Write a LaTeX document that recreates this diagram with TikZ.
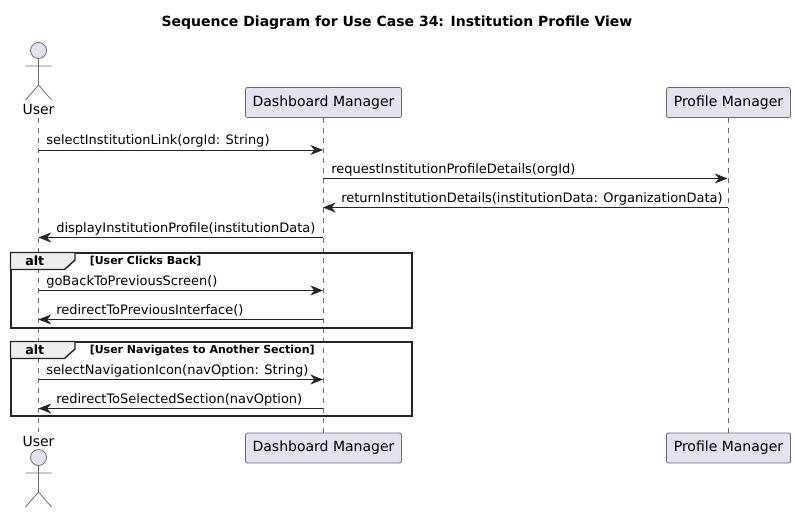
\documentclass[tikz,border=0pt]{standalone}
\usepackage{fontspec}
\setmainfont{DejaVu Sans}
\usetikzlibrary{arrows.meta}
\definecolor{partfill}{HTML}{E2E2F0}
\definecolor{partline}{HTML}{6E6E6E}
\definecolor{tabfill}{HTML}{EEEEEE}
\tikzset{
	part/.style={draw=partline,fill=partfill,rounded corners=1.5pt,line width=0.6pt,font=\fontsize{10.5pt}{12pt}\selectfont,inner sep=0pt,minimum height=22.5pt},
	lifeline/.style={draw=partline,line width=0.5pt,dash pattern=on 3.75pt off 3.75pt},
	msg/.style={draw=black!85,line width=0.6pt,-{Stealth[length=9.5pt,width=7.5pt,inset=3pt]}},
	msgtext/.style={anchor=base west,inner sep=0pt,font=\fontsize{9.75pt}{12pt}\selectfont},
	actorlabel/.style={inner sep=0pt,anchor=base,font=\fontsize{10.5pt}{12pt}\selectfont},
	altframe/.style={draw=black!85,line width=1.5pt},
	alttab/.style={draw=black!85,fill=tabfill,line width=1.1pt},
	altname/.style={anchor=base west,inner sep=0pt,font=\bfseries\fontsize{9.5pt}{12pt}\selectfont},
	guard/.style={anchor=base west,inner sep=0pt,font=\bfseries\fontsize{8.25pt}{10pt}\selectfont},
	actorman/.pic={
		\draw[draw=partline,fill=partfill,line width=0.6pt] (0,0) circle (8);
		\draw[draw=partline,line width=0.6pt] (0,8)--(0,34.5) (-13,15.5)--(13,15.5) (-13,49.5)--(0,34.5)--(13,49.5);
	}
}
\begin{document}
\begin{tikzpicture}[x=0.75pt,y=-0.75pt,line join=round]
	\useasboundingbox[fill=white] (0,0) rectangle (795,513);
	\node[anchor=base,inner sep=0pt,font=\bfseries\fontsize{10.5pt}{12pt}\selectfont] (title) at (397,27) {Sequence Diagram for Use Case 34: Institution Profile View};
	% participants
	\pic at (38.5,50.5) {actorman};
	\pic at (38.5,457.5) {actorman};
	\node[actorlabel] (userT) at (38.5,115) {User};
	\node[actorlabel] (userB) at (38.5,446) {User};
	\node[part,minimum width=117pt] (dashT) at (323.5,102.5) {Dashboard Manager};
	\node[part,minimum width=117pt] (dashB) at (323.5,448) {Dashboard Manager};
	\node[part,minimum width=93pt] (profT) at (728.5,102.5) {Profile Manager};
	\node[part,minimum width=93pt] (profB) at (728.5,448) {Profile Manager};
	\coordinate (uTop) at (38.5,118);
	\coordinate (uEnd) at (38.5,432);
	\draw[lifeline] (uTop)--(uEnd);
	\draw[lifeline] (dashT)--(dashB);
	\draw[lifeline] (profT)--(profB);
	% frames
	\foreach \nm/\ya/\yb/\txt in {altA/252.5/327.5/{[User Clicks Back]},altB/341.5/416/{[User Navigates to Another Section]}}{
		\draw[altframe,line join=miter] (10.5,\ya) rectangle (411.5,\yb);
		\draw[alttab] (10.5,\ya)--(75,\ya)--(75,\ya+7.5)--(64.5,\ya+17)--(10.5,\ya+17)--cycle;
		\node[altname] (\nm) at (25,\ya+12.5) {alt};
		\node[guard] (\nm guard) at (89.5,\ya+11.5) {\txt};
	}
	% messages
	\foreach \nm/\y in {a/150,d/237.5,e/290.5,f/319.5,g/379.5,h/408.5}{
		\coordinate (u\nm) at (38.5,\y);
		\coordinate (d\nm) at (323,\y);
	}
	\foreach \nm/\y in {b/178.5,c/207.5}{
		\coordinate (d\nm) at (323,\y);
		\coordinate (p\nm) at (727.5,\y);
	}
	\draw[msg] (ua)--(da);
	\draw[msg] (db)--(pb);
	\draw[msg] (pc)--(dc);
	\draw[msg] (dd)--(ud);
	\draw[msg] (ue)--(de);
	\draw[msg] (df)--(uf);
	\draw[msg] (ug)--(dg);
	\draw[msg] (dh)--(uh);
	\node[msgtext] (ta) at (46,145) {selectInstitutionLink(orgId: String)};
	\node[msgtext] (tb) at (331,173.5) {requestInstitutionProfileDetails(orgId)};
	\node[msgtext] (tc) at (341,202.5) {returnInstitutionDetails(institutionData: OrganizationData)};
	\node[msgtext] (td) at (56,232.5) {displayInstitutionProfile(institutionData)};
	\node[msgtext] (te) at (46,285.5) {goBackToPreviousScreen()};
	\node[msgtext] (tf) at (56,314.5) {redirectToPreviousInterface()};
	\node[msgtext] (tg) at (46,374.5) {selectNavigationIcon(navOption: String)};
	\node[msgtext] (th) at (56,403.5) {redirectToSelectedSection(navOption)};
\end{tikzpicture}
\end{document}
